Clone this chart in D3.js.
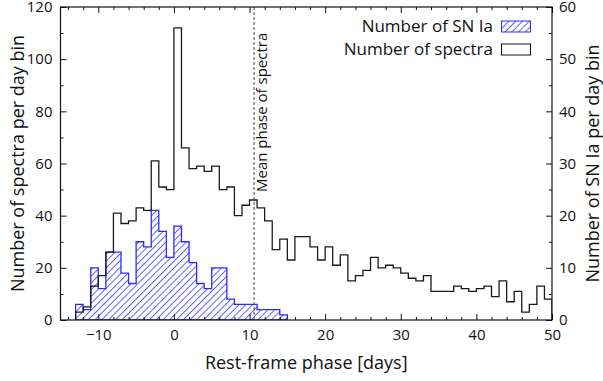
<!DOCTYPE html>
<html><head><meta charset="utf-8">
<script src="https://cdn.jsdelivr.net/npm/d3@7/dist/d3.min.js"></script>
<style>
body{margin:0;background:#fff}
svg{display:block}
text{font-family:"Open Sans",sans-serif;fill:#111}
</style>
</head><body><svg id="c" width="603" height="381"></svg>
<script>
// ---- data (1-day bins, value = count in [start, start+1)) ----
const spectraBinStarts = d3.range(-13, 50);
const spectraCounts = [3,5,13,17,26,41,37,38,43,42,61,51,50,112,66,58,59,57,59,50,51,40,44,46,43,38,27,31,23,32,32,28,23,28,21,25,15,17,19,24,20,21,20,18,16,15,17,11,11,11,13,12,11,12,13,9,15,7,11,3,6,13,8];
const snBinStarts = d3.range(-13, 15);
const snCounts = [3,2,10,6,13,13,9,7,15,14,21,17,12,18,15,11,7,6,10,10,4,3,3,3,2,2,2,1];
const meanPhase = 10.6;
const xMajorTicks = [-10,0,10,20,30,40,50];
const xMinorTicks = d3.range(-14, 51, 2).filter(v => v % 10 !== 0);
const leftMajorTicks = [0,20,40,60,80,100,120];
const leftMinorTicks = [10,30,50,70,90,110];
const rightMajorTicks = [0,10,20,30,40,50,60];
const rightMinorTicks = [5,15,25,35,45,55];
const legendLabels = ["Number of SN Ia", "Number of spectra"];

const svg = d3.select("#c");
const L = 60.5, R = 552, T = 7, B = 320;
const x = d3.scaleLinear().domain([-15, 50]).range([L, R]);
const yL = d3.scaleLinear().domain([0, 120]).range([B, T]);
const yR = d3.scaleLinear().domain([0, 60]).range([B, T]);

// hatch pattern
const defs = svg.append("defs");
const pat = defs.append("pattern").attr("id", "hatch")
  .attr("patternUnits", "userSpaceOnUse").attr("width", 4.8).attr("height", 4.8)
  .attr("patternTransform", "rotate(45)");
pat.append("line").attr("x1", 0).attr("y1", 0).attr("x2", 0).attr("y2", 4.8)
  .attr("stroke", "#1f1fff").attr("stroke-width", 1.4);
defs.append("clipPath").attr("id", "plotclip").append("rect")
  .attr("x", L).attr("y", T).attr("width", R - L).attr("height", B - T);

function stepPoints(starts, counts, ys) {
  const pts = [[x(starts[0]), ys(0)]];
  starts.forEach((s, i) => {
    pts.push([x(s), ys(counts[i])]);
    pts.push([x(s + 1), ys(counts[i])]);
  });
  pts.push([x(starts[starts.length - 1] + 1), ys(0)]);
  return pts;
}
const line = d3.line();

const plot = svg.append("g").attr("clip-path", "url(#plotclip)");
// SN Ia histogram (hatched, right axis)
plot.append("path")
  .attr("d", line(stepPoints(snBinStarts, snCounts, yR)) + "Z")
  .attr("fill", "url(#hatch)")
  .attr("stroke", "#2b2bff").attr("stroke-width", 1.3);
// Spectra histogram (step, left axis)
plot.append("path")
  .attr("d", line(stepPoints(spectraBinStarts, spectraCounts, yL)))
  .attr("fill", "none")
  .attr("stroke", "#1a1a1a").attr("stroke-width", 1.3);

// mean line
svg.append("line")
  .attr("x1", x(meanPhase)).attr("x2", x(meanPhase))
  .attr("y1", T).attr("y2", B)
  .attr("stroke", "#444").attr("stroke-width", 1).attr("stroke-dasharray", "3,2");
svg.append("text")
  .attr("transform", `translate(${x(meanPhase) + 13},192) rotate(-90)`)
  .attr("font-size", 15).text("Mean phase of spectra");

// axes
function styleAxis(g) {
  g.select(".domain").remove();
  g.selectAll("line").attr("stroke", "#111").attr("stroke-width", 1);
  g.selectAll("text").attr("font-size", 15).attr("fill", "#111")
    .attr("font-family", '"Open Sans",sans-serif');
}
svg.append("g").attr("transform", `translate(0,${B})`)
  .call(d3.axisBottom(x).tickValues(xMajorTicks).tickSize(-6).tickPadding(9).tickFormat(d3.format("d")))
  .call(styleAxis);
svg.append("g").attr("transform", `translate(0,${B})`)
  .call(d3.axisBottom(x).tickValues(xMinorTicks).tickSize(-3).tickFormat(""))
  .call(styleAxis);
svg.append("g").attr("transform", `translate(0,${T})`)
  .call(d3.axisTop(x).tickValues(xMajorTicks).tickSize(-6).tickFormat(""))
  .call(styleAxis);
svg.append("g").attr("transform", `translate(0,${T})`)
  .call(d3.axisTop(x).tickValues(xMinorTicks).tickSize(-3).tickFormat(""))
  .call(styleAxis);
svg.append("g").attr("transform", `translate(${L},0)`)
  .call(d3.axisLeft(yL).tickValues(leftMajorTicks).tickSize(-6).tickPadding(8).tickFormat(d3.format("d")))
  .call(styleAxis);
svg.append("g").attr("transform", `translate(${L},0)`)
  .call(d3.axisLeft(yL).tickValues(leftMinorTicks).tickSize(-3).tickFormat(""))
  .call(styleAxis);
svg.append("g").attr("transform", `translate(${R},0)`)
  .call(d3.axisRight(yR).tickValues(rightMajorTicks).tickSize(-6).tickPadding(7).tickFormat(d3.format("d")))
  .call(styleAxis);
svg.append("g").attr("transform", `translate(${R},0)`)
  .call(d3.axisRight(yR).tickValues(rightMinorTicks).tickSize(-3).tickFormat(""))
  .call(styleAxis);

svg.append("rect").attr("x", L).attr("y", T).attr("width", R - L).attr("height", B - T)
  .attr("fill", "none").attr("stroke", "#111").attr("stroke-width", 1.2);

// axis titles
svg.append("text").attr("x", (L + R) / 2).attr("y", 369).attr("text-anchor", "middle")
  .attr("font-size", 18).text("Rest-frame phase [days]");
svg.append("text").attr("transform", `translate(24,${(T + B) / 2}) rotate(-90)`)
  .attr("text-anchor", "middle").attr("font-size", 18).text("Number of spectra per day bin");
svg.append("text").attr("transform", `translate(599,${(T + B) / 2}) rotate(-90)`)
  .attr("text-anchor", "middle").attr("font-size", 18).text("Number of SN Ia per day bin");

// legend
const lg = svg.append("g");
const rows = [{y: 32, fill: "url(#hatch)", stroke: "#2b2bff"}, {y: 55, fill: "#fff", stroke: "#111"}];
rows.forEach((r, i) => {
  lg.append("text").attr("x", 493).attr("y", r.y).attr("text-anchor", "end")
    .attr("font-size", 17).text(legendLabels[i]);
  lg.append("rect").attr("x", 501.5).attr("y", r.y - 11).attr("width", 29).attr("height", 11)
    .attr("fill", r.fill).attr("stroke", r.stroke).attr("stroke-width", 1);
});
</script>
</body></html>
